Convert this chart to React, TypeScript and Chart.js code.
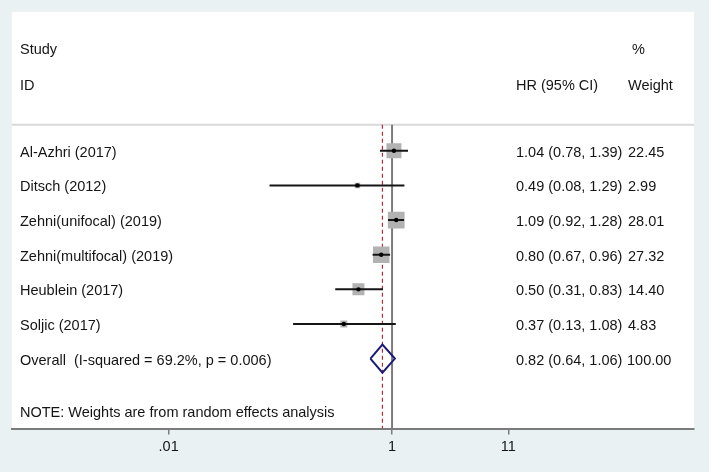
import React, { useEffect, useRef } from "react";
import { Chart, registerables } from "chart.js";

Chart.register(...registerables);

// ---------- data ----------
const studies = [
  "Al-Azhri (2017)",
  "Ditsch (2012)",
  "Zehni(unifocal) (2019)",
  "Zehni(multifocal) (2019)",
  "Heublein (2017)",
  "Soljic (2017)",
];
const hr = [1.04, 0.49, 1.09, 0.8, 0.5, 0.37];
const ciLow = [0.78, 0.08, 0.92, 0.67, 0.31, 0.13];
const ciHigh = [1.39, 1.29, 1.28, 0.96, 0.83, 1.08];
const weights = [22.45, 2.99, 28.01, 27.32, 14.4, 4.83];

const overallLabel = "Overall  (I-squared = 69.2%, p = 0.006)";
const overallHR = 0.82;
const overallLow = 0.64;
const overallHigh = 1.06;
const overallWeight = 100.0;

const xTickValues = [0.01, 1, 11];
const xTickLabels = [".01", "1", "11"];

const headerStudy = ["Study", "ID"];
const headerHR = "HR (95% CI)";
const headerWeight = ["%", "Weight"];
const noteText = "NOTE: Weights are from random effects analysis";

// ---------- layout (row units on the y scale) ----------
const ROW_OVERALL = studies.length;
const ROW_STUDY_HEAD = -2.97;
const ROW_ID_HEAD = -1.93;
const ROW_HEADER_LINE = -0.75;
const ROW_NOTE = 7.5;
const Y_MIN = -4.01;
const Y_MAX = 8.02;
const DIAMOND_HALF = 0.404;

const X_MIN = 0.0003945;
const X_MAX = 504.7;

const FONT = '"Liberation Sans", Arial, Helvetica, sans-serif';
const FONT_SIZE = 14.5;
const TEXT_COLOR = "#151515";
const BG_OUTER = "#e9f1f3";

const COL_STUDY = 20;
const COL_HR = 516;
const COL_WEIGHT = 628;
const COL_PCT = 632;
const COL_WEIGHT_OVERALL = 627;

const fmt = (v: number) => v.toFixed(2);

const bgPlugin = {
  id: "bgPlugin",
  beforeDraw(chart: any) {
    const { ctx, chartArea, width, height } = chart;
    ctx.save();
    ctx.fillStyle = BG_OUTER;
    ctx.fillRect(0, 0, width, height);
    ctx.fillStyle = "#ffffff";
    ctx.fillRect(
      chartArea.left,
      chartArea.top,
      chartArea.right - chartArea.left,
      chartArea.bottom - chartArea.top
    );
    ctx.restore();
  },
  beforeDatasetsDraw(chart: any) {
    const { ctx, chartArea } = chart;
    const y = chart.scales.y.getPixelForValue(ROW_HEADER_LINE);
    ctx.save();
    ctx.strokeStyle = "#d9d9d9";
    ctx.lineWidth = 2;
    ctx.beginPath();
    ctx.moveTo(chartArea.left, y);
    ctx.lineTo(chartArea.right, y);
    ctx.stroke();
    ctx.restore();
  },
};

const textPlugin = {
  id: "textPlugin",
  afterDatasetsDraw(chart: any) {
    const { ctx } = chart;
    const ys = chart.scales.y;
    const row = (v: number) => ys.getPixelForValue(v) + 2;
    ctx.save();
    ctx.fillStyle = TEXT_COLOR;
    ctx.font = `${FONT_SIZE}px ${FONT}`;
    ctx.textBaseline = "middle";
    ctx.textAlign = "left";

    ctx.fillText(headerStudy[0], COL_STUDY, row(ROW_STUDY_HEAD));
    ctx.fillText(headerStudy[1], COL_STUDY, row(ROW_ID_HEAD));
    ctx.fillText(headerHR, COL_HR, row(ROW_ID_HEAD));
    ctx.fillText(headerWeight[0], COL_PCT, row(ROW_STUDY_HEAD));
    ctx.fillText(headerWeight[1], COL_WEIGHT, row(ROW_ID_HEAD));

    studies.forEach((s, i) => {
      ctx.fillText(s, COL_STUDY, row(i));
      ctx.fillText(
        `${fmt(hr[i])} (${fmt(ciLow[i])}, ${fmt(ciHigh[i])})`,
        COL_HR,
        row(i)
      );
      ctx.fillText(fmt(weights[i]), COL_WEIGHT, row(i));
    });

    ctx.fillText(overallLabel, COL_STUDY, row(ROW_OVERALL));
    ctx.fillText(
      `${fmt(overallHR)} (${fmt(overallLow)}, ${fmt(overallHigh)})`,
      COL_HR,
      row(ROW_OVERALL)
    );
    ctx.fillText(fmt(overallWeight), COL_WEIGHT_OVERALL, row(ROW_OVERALL));
    ctx.fillText(noteText, COL_STUDY, row(ROW_NOTE));
    ctx.restore();
  },
};

export default function App() {
  const canvasRef = useRef<HTMLCanvasElement | null>(null);

  useEffect(() => {
    if (!canvasRef.current) return;

    const dots = {
      type: "scatter",
      label: "Point estimate",
      data: hr.map((v, i) => ({ x: v, y: i })),
      pointStyle: "circle",
      pointRadius: 2.2,
      backgroundColor: "#000000",
      borderWidth: 0,
      showLine: false,
      order: 0,
    };

    const ciLines = studies.map((s, i) => ({
      type: "scatter",
      label: s + " CI",
      data: [
        { x: ciLow[i], y: i },
        { x: ciHigh[i], y: i },
      ],
      showLine: true,
      borderColor: "#151515",
      borderWidth: 2,
      pointRadius: 0,
      order: 1,
    }));

    const boxes = {
      type: "scatter",
      label: "Weight",
      data: hr.map((v, i) => ({ x: v, y: i })),
      pointStyle: "rect",
      pointRadius: weights.map((w) => 2.234 * Math.sqrt(w)),
      backgroundColor: "#b2b2b2",
      borderWidth: 0,
      showLine: false,
      order: 2,
    };

    const diamond = {
      type: "scatter",
      label: "Overall",
      data: [
        { x: overallLow, y: ROW_OVERALL },
        { x: overallHR, y: ROW_OVERALL - DIAMOND_HALF },
        { x: overallHigh, y: ROW_OVERALL },
        { x: overallHR, y: ROW_OVERALL + DIAMOND_HALF },
        { x: overallLow, y: ROW_OVERALL },
      ],
      showLine: true,
      borderColor: "#1c1c78",
      borderWidth: 2,
      borderJoinStyle: "miter",
      pointRadius: 0,
      fill: false,
      tension: 0,
      order: 3,
    };

    const overallLine = {
      type: "scatter",
      label: "Overall effect",
      data: [
        { x: overallHR, y: ROW_HEADER_LINE },
        { x: overallHR, y: Y_MAX },
      ],
      showLine: true,
      borderColor: "#c0282d",
      borderWidth: 1.2,
      borderDash: [4, 3],
      pointRadius: 0,
      order: 4,
    };

    const nullLine = {
      type: "scatter",
      label: "No effect",
      data: [
        { x: 1, y: ROW_HEADER_LINE },
        { x: 1, y: Y_MAX },
      ],
      showLine: true,
      borderColor: "#7c7c7c",
      borderWidth: 2,
      pointRadius: 0,
      order: 5,
    };

    const chart = new Chart(canvasRef.current, {
      type: "scatter",
      data: {
        datasets: [dots, ...ciLines, boxes, diamond, overallLine, nullLine] as any,
      },
      options: {
        animation: false,
        responsive: false,
        devicePixelRatio: 1,
        events: [],
        layout: { padding: { left: 11, right: 15, top: 11, bottom: 12 } },
        plugins: {
          legend: { display: false },
          tooltip: { enabled: false },
        },
        scales: {
          x: {
            type: "logarithmic",
            min: X_MIN,
            max: X_MAX,
            bounds: "data",
            afterBuildTicks: (axis: any) => {
              axis.ticks = xTickValues.map((v) => ({ value: v }));
            },
            ticks: {
              autoSkip: false,
              maxRotation: 0,
              padding: 4,
              color: TEXT_COLOR,
              font: { size: FONT_SIZE, family: FONT },
              callback: (_v: any, index: number) => xTickLabels[index],
            },
            grid: {
              drawOnChartArea: false,
              drawTicks: true,
              tickLength: 6,
              color: "#7c7c7c",
              tickColor: "#7c7c7c",
              lineWidth: 1.5,
            },
            border: { display: true, color: "#7c7c7c", width: 2 },
          },
          y: {
            type: "linear",
            display: false,
            reverse: true,
            min: Y_MIN,
            max: Y_MAX,
            bounds: "data",
          },
        },
      } as any,
      plugins: [bgPlugin, textPlugin],
    });

    return () => chart.destroy();
  }, []);

  return (
    <div style={{ position: "absolute", left: 0, top: 0, width: 709, height: 472 }}>
      <canvas ref={canvasRef} width={709} height={472} style={{ display: "block" }} />
    </div>
  );
}
